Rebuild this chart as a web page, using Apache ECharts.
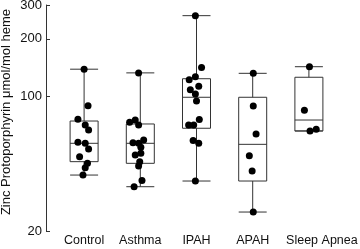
<!DOCTYPE html>
<html>
<head>
<meta charset="utf-8">
<script src="https://cdn.jsdelivr.net/npm/echarts@6/dist/echarts.min.js"></script>
<style>html,body{margin:0;padding:0;background:#fff}#c{width:360px;height:249px}</style>
</head>
<body>
<div id="c"></div>
<script>
// ---- data (µmol/mol heme) ----
const categories = ['Control', 'Asthma', 'IPAH', 'APAH', 'Sleep Apnea'];
const yTicks = [20, 100, 200, 300];
const yTitle = 'Zinc Protoporphyrin \u03bcmol/mol heme';

// box statistics: [lower whisker, Q1, median, Q3, upper whisker]
const boxControl = [39.1, 45.9, 57.2, 74.7, 139];
const boxAsthma  = [34.0, 45.0, 57.2, 72.1, 133];
const boxIPAH    = [36.4, 68.5, 99.3, 124, 264];
const boxAPAH    = [25.1, 36.4, 56.5, 99.3, 132.3];
const boxSleep   = [66.3, 66.3, 75.6, 126.2, 143.2];

// individual subjects
const ptsControl = [139, 89.8, 76.3, 71.3, 67.1, 57.9, 57.2, 53.5, 48.7, 45.0, 42.7, 39.1];
const ptsAsthma  = [133, 75.6, 73.6, 71.3, 59.5, 57.6, 57.2, 54.5, 50.8, 49.7, 45.9, 43.6, 36.6, 34.0];
const ptsIPAH    = [264, 141.9, 127.1, 122.6, 113.3, 108.7, 103.3, 95.0, 76.1, 71.3, 71.3, 59.2, 57.2, 36.4];
const ptsAPAH    = [132.3, 89.5, 64.0, 49.3, 41.1, 25.1];
const ptsSleep   = [143.2, 85.0, 66.3, 67.7];

// horizontal jitter of each point, in category widths
const jitControl = [0, .07, -.11, .02, .08, -.11, .02, .08, -.08, .06, .02, -.02];
const jitAsthma  = [-.03, -.09, -.19, -.03, .06, -.13, -.03, .01, .01, -.09, -.01, -.03, .03, -.11];
const jitIPAH    = [-.02, .09, -.02, -.13, .04, -.11, -.02, 0, .05, -.14, -.05, -.06, .04, -.02];
const jitAPAH    = [.01, .01, .06, -.06, -.01, .01];
const jitSleep   = [.01, -.08, .02, .13];

// ---- build ----
const L = Math.log10;
const boxes = [boxControl, boxAsthma, boxIPAH, boxAPAH, boxSleep];
const pts = [ptsControl, ptsAsthma, ptsIPAH, ptsAPAH, ptsSleep];
const jit = [jitControl, jitAsthma, jitIPAH, jitAPAH, jitSleep];
const boxData = boxes.map(b => b.map(L));
const scatterData = [];
pts.forEach((arr, i) => arr.forEach((v, k) => scatterData.push([i + jit[i][k], L(v)])));

// last category label sits a little to the right in the reference
const catItems = categories.map((c, i) => i === categories.length - 1
  ? {value: c, textStyle: {padding: [0, 0, 0, 26]}} : c);

const font = 'Liberation Sans, Arial, Helvetica, sans-serif';
const chart = echarts.init(document.getElementById('c'), null, {renderer: 'canvas'});
chart.setOption({
  animation: false,
  backgroundColor: '#fff',
  grid: {left: 56, right: 23, top: 5, bottom: 18, containLabel: false, outerBoundsMode: 'none'},
  graphic: [{
    type: 'text', x: 6, y: 112, rotation: Math.PI / 2, silent: true,
    style: {text: yTitle, fill: '#111', font: '13px ' + font, align: 'center', verticalAlign: 'middle'}
  }],
  xAxis: [{
    type: 'category', data: catItems, boundaryGap: true,
    axisLine: {show: false}, axisTick: {show: false}, splitLine: {show: false},
    axisLabel: {color: '#111', fontSize: 12.5, fontFamily: font, margin: 3, interval: 0}
  }, {
    type: 'value', min: -0.5, max: 4.5, show: false
  }],
  yAxis: {
    type: 'value', min: L(yTicks[0]), max: L(yTicks[yTicks.length - 1]), offset: 10,
    axisLine: {show: true, onZero: false, lineStyle: {color: '#333', width: 1}},
    axisTick: {show: true, inside: true, length: 4, lineStyle: {color: '#333'}, customValues: yTicks.map(L)},
    axisLabel: {color: '#111', fontSize: 13, fontFamily: font, margin: 4,
      customValues: yTicks.map(L), formatter: v => String(Math.round(Math.pow(10, v)))},
    splitLine: {show: false}
  },
  series: [{
    type: 'boxplot', xAxisIndex: 0, data: boxData, boxWidth: [28, 28],
    itemStyle: {color: '#fff', borderColor: '#333', borderWidth: 1},
    emphasis: {disabled: true}
  }, {
    type: 'scatter', xAxisIndex: 1, data: scatterData, symbolSize: 7,
    itemStyle: {color: '#000', opacity: 1}, z: 5
  }]
});
</script>
</body>
</html>
